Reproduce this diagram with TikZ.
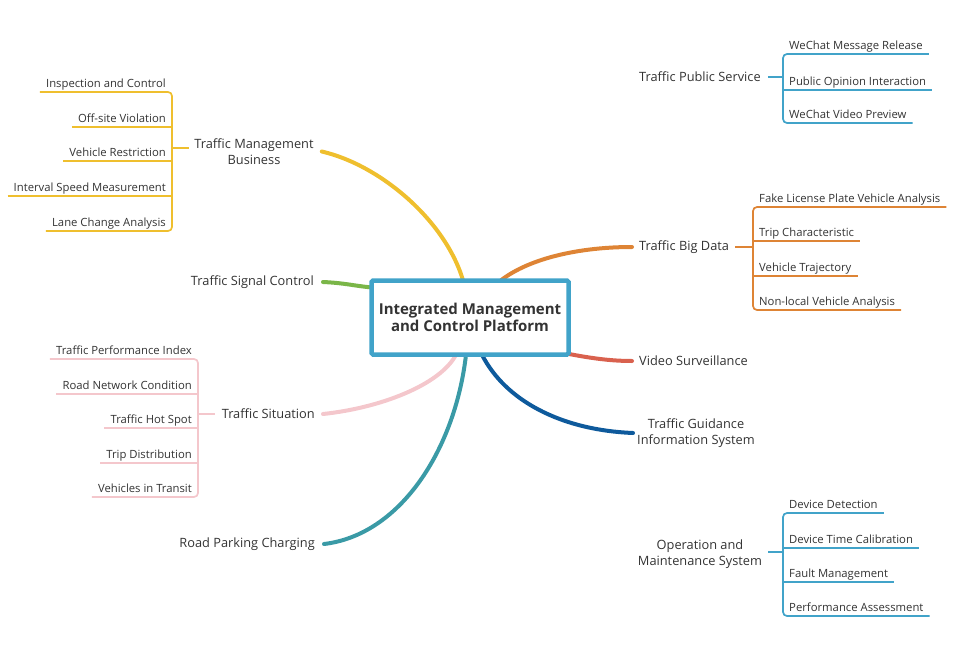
\documentclass[tikz,border=0pt]{standalone}
\usepackage{fontspec}
\setmainfont{Open Sans}
\definecolor{txt}{HTML}{333333}
\definecolor{cY}{HTML}{EFBF2E}
\definecolor{cG}{HTML}{7AB648}
\definecolor{cP}{HTML}{F4C7CC}
\definecolor{cT}{HTML}{3A9AA6}
\definecolor{cO}{HTML}{DE8435}
\definecolor{cR}{HTML}{D9614E}
\definecolor{cD}{HTML}{0E5A9C}
\definecolor{cB}{HTML}{41A3C9}
\begin{document}
\begin{tikzpicture}[x=1pt,y=-1pt,
  lbl/.style={font=\fontsize{12.8}{15.5}\selectfont, text=txt, inner sep=0pt, align=center},
  leaf/.style={font=\fontsize{11.3}{13}\selectfont, text=txt, inner xsep=6pt, inner ysep=4pt, text depth=0pt},
  leafL/.style={leaf, anchor=south east},
  leafR/.style={leaf, anchor=south west},
  trunk/.style={line width=4pt, line cap=round},
  twig/.style={line width=1.7pt, rounded corners=4pt},
  hub/.style={draw=cB, line width=4.5pt, fill=white, rounded corners=1.5pt,
    minimum width=197pt, minimum height=74pt, text=txt, align=center,
    font=\fontsize{15}{16.5}\selectfont\bfseries}
]
\useasboundingbox (0,0) rectangle (960,650);

% labels
\node[lbl] (tmb) at (254,151.5) {Traffic Management\\Business};
\node[lbl, anchor=east] (tsc) at (314,282) {Traffic Signal Control};
\node[lbl, anchor=east] (ts) at (315,414) {Traffic Situation};
\node[lbl, anchor=east] (rpc) at (315,544) {Road Parking Charging};
\node[lbl, anchor=west] (tps) at (639,77) {Traffic Public Service};
\node[lbl, anchor=west] (tbd) at (639,247) {Traffic Big Data};
\node[lbl, anchor=west] (vs) at (639,361) {Video Surveillance};
\node[lbl] (tgis) at (696,433) {Traffic Guidance\\Information System};
\node[lbl] (oms) at (700,554) {Operation and\\Maintenance System};

% hub (position only, drawn later on top)
\node[hub, draw=none, fill=none, text opacity=0] (c) at (470,317.5) {Integrated Management\\and Control Platform};

% trunks
\draw[trunk, cY] ([xshift=8pt]tmb.east) .. controls (380,165) and (445,220) .. ([xshift=-7pt,yshift=-2pt]c.north);
\draw[trunk, cG] ([xshift=9pt]tsc.east) .. controls (345,283) and (355,286) .. ([yshift=30pt,xshift=3pt]c.west);
\draw[trunk, cP] ([xshift=8pt]ts.east) .. controls (380,408) and (440,385) .. ([xshift=-14pt,yshift=2pt]c.south);
\draw[trunk, cT] ([xshift=9pt]rpc.east) .. controls (400,535) and (455,450) .. ([xshift=-4pt,yshift=2pt]c.south);
\draw[trunk, cO] ([xshift=31pt,yshift=-2pt]c.north) .. controls (530,258) and (580,247) .. ([xshift=-7pt]tbd.west);
\draw[trunk, cR] ([xshift=-3pt,yshift=3pt]c.south east) .. controls (590,358) and (610,361) .. ([xshift=-7pt]vs.west);
\draw[trunk, cD] ([xshift=12pt,yshift=2pt]c.south) .. controls (505,400) and (560,430) .. ([xshift=-4pt]tgis.west);

% hub drawn on top
\node[hub] at (c) {Integrated Management\\and Control Platform};

% Traffic Management Business leaves
\node[leafL] (a1) at (172,92) {Inspection and Control};
\node[leafL] (a2) at (172,127) {Off-site Violation};
\node[leafL] (a3) at (172,161) {Vehicle Restriction};
\node[leafL] (a4) at (172,196) {Interval Speed Measurement};
\node[leafL] (a5) at (172,231) {Lane Change Analysis};
\begin{scope}[twig, cY]
\draw (a1.south west) -- (a1.south east) -- (a5.south east) -- (a5.south west);
\foreach \n in {a2,a3,a4} \draw (\n.south west) -- (\n.south east);
\draw (a1.south east |- 0,148) -- ([xshift=-5pt]tmb.west |- 0,148);
\end{scope}

% Traffic Situation leaves
\node[leafL] (b1) at (198,359) {Traffic Performance Index};
\node[leafL] (b2) at (198,394) {Road Network Condition};
\node[leafL] (b3) at (198,428) {Traffic Hot Spot};
\node[leafL] (b4) at (198,463) {Trip Distribution};
\node[leafL] (b5) at (198,497) {Vehicles in Transit};
\begin{scope}[twig, cP]
\draw (b1.south west) -- (b1.south east) -- (b5.south east) -- (b5.south west);
\foreach \n in {b2,b3,b4} \draw (\n.south west) -- (\n.south east);
\draw (b1.south east |- ts.west) -- ([xshift=-7pt]ts.west);
\end{scope}

% Traffic Public Service leaves
\node[leafR] (p1) at (783,54) {WeChat Message Release};
\node[leafR] (p2) at (783,90) {Public Opinion Interaction};
\node[leafR] (p3) at (783,123) {WeChat Video Preview};
\begin{scope}[twig, cB]
\draw (p1.south east) -- (p1.south west) -- (p3.south west) -- (p3.south east);
\draw (p2.south west) -- (p2.south east);
\draw ([xshift=7pt]tps.east) -- (p1.south west |- tps.east);
\end{scope}

% Traffic Big Data leaves
\node[leafR] (d1) at (753,207) {Fake License Plate Vehicle Analysis};
\node[leafR] (d2) at (753,241) {Trip Characteristic};
\node[leafR] (d3) at (753,276) {Vehicle Trajectory};
\node[leafR] (d4) at (753,310) {Non-local Vehicle Analysis};
\begin{scope}[twig, cO]
\draw (d1.south east) -- (d1.south west) -- (d4.south west) -- (d4.south east);
\foreach \n in {d2,d3} \draw (\n.south west) -- (\n.south east);
\draw ([xshift=6pt]tbd.east) -- (d1.south west |- tbd.east);
\end{scope}

% Operation and Maintenance System leaves
\node[leafR] (o1) at (783,513) {Device Detection};
\node[leafR] (o2) at (783,548) {Device Time Calibration};
\node[leafR] (o3) at (783,582) {Fault Management};
\node[leafR] (o4) at (783,616) {Performance Assessment};
\begin{scope}[twig, cB]
\draw (o1.south east) -- (o1.south west) -- (o4.south west) -- (o4.south east);
\foreach \n in {o2,o3} \draw (\n.south west) -- (\n.south east);
\draw ([xshift=6pt]oms.east |- 0,552) -- (o1.south west |- 0,552);
\end{scope}
\end{tikzpicture}
\end{document}
